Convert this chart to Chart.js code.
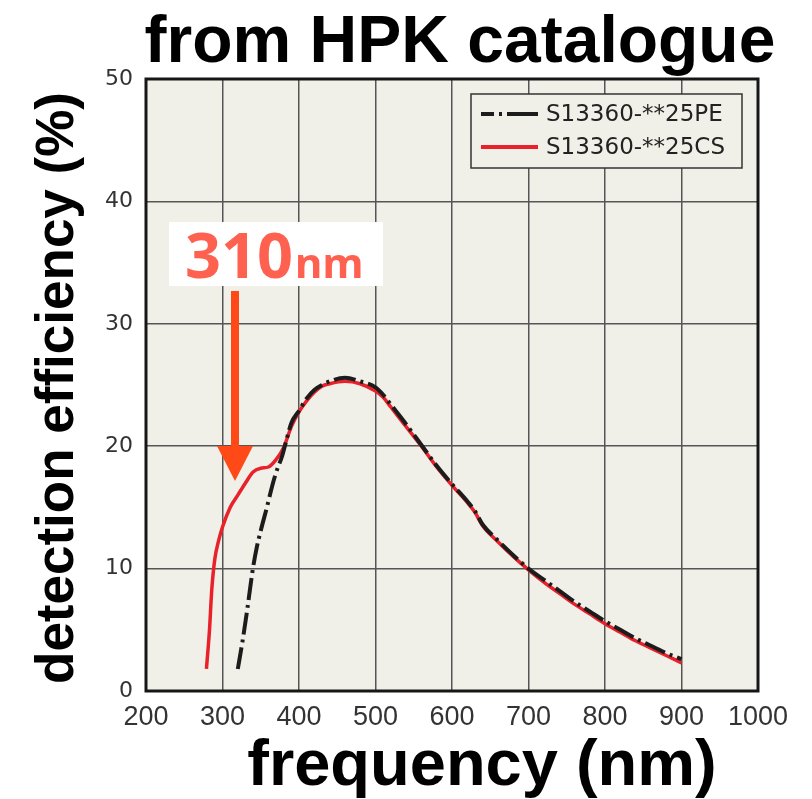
<!DOCTYPE html>
<html>
<head>
<meta charset="utf-8">
<script src="https://cdn.jsdelivr.net/npm/chart.js@4"></script>
<style>
html,body{margin:0;padding:0;background:#fff;}
#wrap{width:812px;height:799px;position:relative;}
</style>
</head>
<body>
<div id="wrap"><canvas id="c" width="812" height="799"></canvas></div>
<script>
// ---- data ----
const chartTitle = "from HPK catalogue";
const xTitle = "frequency (nm)";
const yTitle = "detection efficiency (%)";
const seriesNames = ["S13360-**25PE", "S13360-**25CS"];
const xTicks = [200, 300, 400, 500, 600, 700, 800, 900, 1000];
const yTicks = [0, 10, 20, 30, 40, 50];

const peWavelength = [320,326,332,337,340,345,350,358,366,372,378,384,390,400,410,420,430,440,460,480,500,510,520,540,560,580,600,620,630,640,660,680,700,720,740,760,780,800,820,840,860,880,900];
const peEfficiency = [1.8,4.0,6.5,8.8,10.1,11.8,13.1,15.0,17.0,18.2,19.2,20.6,21.9,22.9,23.9,24.6,25.0,25.3,25.6,25.3,24.8,24.2,23.4,21.8,20.1,18.4,16.9,15.5,14.7,13.6,12.3,11.1,10.0,9.1,8.2,7.3,6.5,5.7,5.0,4.3,3.7,3.1,2.6];

const csWavelength = [279,283,286,290,295,300,310,320,330,340,350,360,370,380,390,400,410,420,430,440,460,480,500,510,520,540,560,580,600,620,630,640,660,680,700,720,740,760,780,800,820,840,860,880,900];
const csEfficiency = [1.8,5.0,8.3,10.8,12.3,13.4,15.0,16.0,17.0,17.9,18.2,18.3,18.9,19.9,21.6,22.8,23.7,24.4,24.9,25.1,25.3,25.1,24.5,24.0,23.2,21.6,20.0,18.3,16.8,15.4,14.6,13.5,12.2,11.0,9.9,8.9,8.0,7.1,6.3,5.5,4.8,4.1,3.5,2.9,2.3];

const annotationMain = "310";
const annotationUnit = "nm";

// ---- styles ----
const PE_COLOR = '#1c1c1c';
const CS_COLOR = '#e8212b';
const PE_DASH = [22, 5, 3, 5];
const PLOT_BG = '#f1f0e8';

const pts = (xs, ys) => xs.map((x, i) => ({x: x, y: ys[i]}));

const plugin = {
  id: 'deco',
  beforeDraw(chart) {
    const {ctx, chartArea: a} = chart;
    ctx.save();
    ctx.fillStyle = '#ffffff';
    ctx.fillRect(0, 0, chart.width, chart.height);
    ctx.fillStyle = PLOT_BG;
    ctx.fillRect(a.left, a.top, a.right - a.left, a.bottom - a.top);
    ctx.restore();
  },
  afterDraw(chart) {
    const {ctx, chartArea: a} = chart;
    ctx.save();
    // frame
    ctx.strokeStyle = '#161616';
    ctx.lineWidth = 3;
    ctx.strokeRect(a.left, a.top, a.right - a.left, a.bottom - a.top);

    // titles
    ctx.fillStyle = '#000';
    ctx.textAlign = 'center';
    ctx.textBaseline = 'alphabetic';
    ctx.font = 'bold 66px "Liberation Sans", Arial, sans-serif';
    ctx.fillText(chartTitle, 460, 62);
    ctx.font = 'bold 65px "Liberation Sans", Arial, sans-serif';
    ctx.fillText(xTitle, 482, 785);
    ctx.save();
    ctx.translate(73, 388);
    ctx.rotate(-Math.PI / 2);
    ctx.font = 'bold 53px "Liberation Sans", Arial, sans-serif';
    ctx.fillText(yTitle, 0, 0);
    ctx.restore();

    // legend
    const lx = 471, ly = 94, lw = 271, lh = 74;
    ctx.fillStyle = PLOT_BG;
    ctx.fillRect(lx, ly, lw, lh);
    ctx.strokeStyle = '#333';
    ctx.lineWidth = 1.5;
    ctx.strokeRect(lx, ly, lw, lh);
    const ds = chart.data.datasets;
    const rows = [114, 147];
    ds.forEach((d, i) => {
      ctx.beginPath();
      ctx.setLineDash(i === 0 ? [13, 5, 3, 5, 40] : []);
      ctx.strokeStyle = d.borderColor;
      ctx.lineWidth = 4;
      ctx.lineCap = 'butt';
      ctx.moveTo(481, rows[i]);
      ctx.lineTo(538, rows[i]);
      ctx.stroke();
      ctx.setLineDash([]);
      ctx.fillStyle = '#222';
      ctx.textAlign = 'left';
      ctx.textBaseline = 'middle';
      ctx.font = '23px "DejaVu Sans", Verdana, sans-serif';
      ctx.fillText(d.label, 546, rows[i] + 1);
    });

    // annotation box
    ctx.fillStyle = '#ffffff';
    ctx.fillRect(169, 222, 214, 64);
    ctx.fillStyle = '#ff6150';
    ctx.textAlign = 'left';
    ctx.textBaseline = 'alphabetic';
    ctx.font = 'bold 63px "Noto Sans", sans-serif';
    ctx.fillText(annotationMain, 185, 278);
    const w = ctx.measureText(annotationMain).width;
    ctx.font = 'bold 42px "Noto Sans", sans-serif';
    ctx.fillText(annotationUnit, 185 + w + 2, 278);

    // arrow
    ctx.fillStyle = '#ff4a17';
    ctx.fillRect(231, 291, 8, 160);
    ctx.beginPath();
    ctx.moveTo(217, 446);
    ctx.lineTo(253, 446);
    ctx.lineTo(235, 481);
    ctx.closePath();
    ctx.fill();
    ctx.restore();
  }
};

new Chart(document.getElementById('c'), {
  type: 'line',
  data: {
    datasets: [
      {
        label: seriesNames[0],
        data: pts(peWavelength, peEfficiency),
        borderColor: PE_COLOR,
        borderWidth: 4,
        borderDash: PE_DASH,
        pointRadius: 0,
        tension: 0.4,
        cubicInterpolationMode: 'monotone',
        fill: false
      },
      {
        label: seriesNames[1],
        data: pts(csWavelength, csEfficiency),
        borderColor: CS_COLOR,
        borderWidth: 3.5,
        pointRadius: 0,
        tension: 0.4,
        cubicInterpolationMode: 'monotone',
        fill: false
      }
    ]
  },
  options: {
    responsive: false,
    animation: false,
    devicePixelRatio: 1,
    layout: {padding: {left: 96, top: 79, right: 54, bottom: 68}},
    plugins: {legend: {display: false}, tooltip: {enabled: false}, title: {display: false}},
    scales: {
      x: {
        type: 'linear',
        min: xTicks[0], max: xTicks[xTicks.length - 1],
        afterFit(s) { s.height = 40; },
        afterBuildTicks(s) { s.ticks = xTicks.map(v => ({value: v})); },
        grid: {color: '#555', lineWidth: 1.5, drawTicks: false},
        border: {display: false},
        ticks: {padding: 10, color: '#333', callback: v => String(v), font: {family: '"Liberation Sans Narrow", "Liberation Sans", sans-serif', size: 27}, maxRotation: 0, autoSkip: false}
      },
      y: {
        min: yTicks[0], max: yTicks[yTicks.length - 1],
        afterFit(s) { s.width = 50; },
        afterBuildTicks(s) { s.ticks = yTicks.map(v => ({value: v})); },
        grid: {color: '#555', lineWidth: 1.5, drawTicks: false},
        border: {display: false},
        ticks: {padding: 13, color: '#333', callback: v => String(v), font: {family: '"DejaVu Sans", Verdana, sans-serif', size: 22}}
      }
    }
  },
  plugins: [plugin]
});
</script>
</body>
</html>
